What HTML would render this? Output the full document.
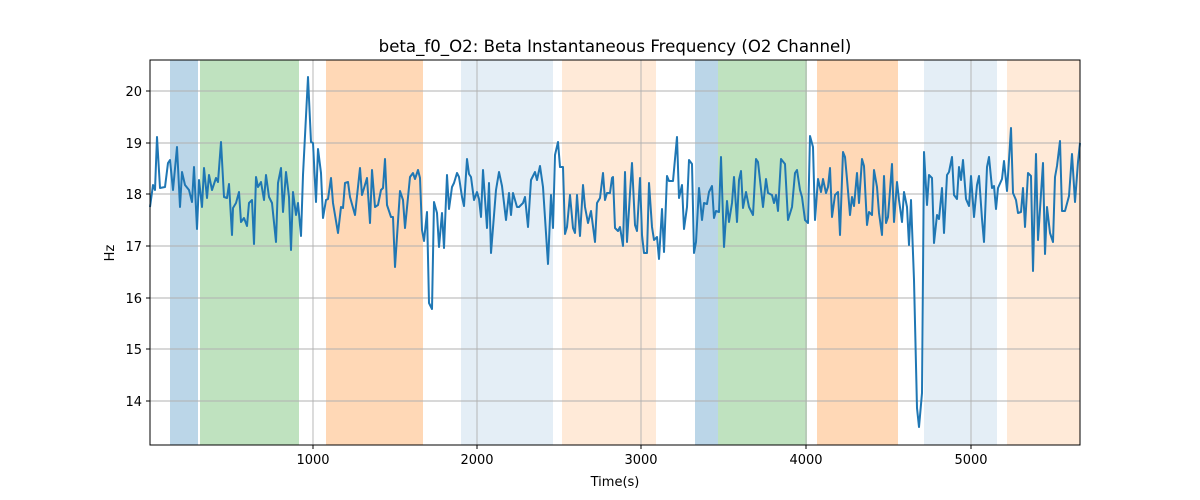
<!DOCTYPE html>
<html><head><meta charset="utf-8"><style>body{margin:0;background:#fff}svg{display:block}text{font-family:"DejaVu Sans","Liberation Sans",sans-serif}</style></head><body>
<svg width="1200" height="500" viewBox="0 0 1200 500">
<rect width="1200" height="500" fill="#fff"/>
<g>
<rect x="170" y="60" width="28" height="385" fill="#1f77b4" fill-opacity="0.3"/>
<rect x="200" y="60" width="99" height="385" fill="#2ca02c" fill-opacity="0.3"/>
<rect x="326" y="60" width="97" height="385" fill="#ff7f0e" fill-opacity="0.3"/>
<rect x="461" y="60" width="92" height="385" fill="#1f77b4" fill-opacity="0.12"/>
<rect x="562" y="60" width="94" height="385" fill="#ff7f0e" fill-opacity="0.16"/>
<rect x="695" y="60" width="23" height="385" fill="#1f77b4" fill-opacity="0.3"/>
<rect x="718" y="60" width="89" height="385" fill="#2ca02c" fill-opacity="0.3"/>
<rect x="817" y="60" width="81" height="385" fill="#ff7f0e" fill-opacity="0.3"/>
<rect x="924" y="60" width="73" height="385" fill="#1f77b4" fill-opacity="0.12"/>
<rect x="1007" y="60" width="73" height="385" fill="#ff7f0e" fill-opacity="0.16"/>
</g>
<g stroke="#b0b0b0" stroke-width="0.9">
<line x1="313" y1="60" x2="313" y2="445"/><line x1="477" y1="60" x2="477" y2="445"/><line x1="641" y1="60" x2="641" y2="445"/><line x1="806" y1="60" x2="806" y2="445"/><line x1="971" y1="60" x2="971" y2="445"/>
<line x1="150" y1="91" x2="1080" y2="91"/><line x1="150" y1="143" x2="1080" y2="143"/><line x1="150" y1="194" x2="1080" y2="194"/><line x1="150" y1="246" x2="1080" y2="246"/><line x1="150" y1="298" x2="1080" y2="298"/><line x1="150" y1="349" x2="1080" y2="349"/><line x1="150" y1="401" x2="1080" y2="401"/>
</g>
<polyline fill="none" stroke="#1f77b4" stroke-width="2" stroke-linejoin="round" points="150,207 153,185 155,190 157,137 160,188 165,187 168,163 170,160 173,190 177,147 180,207 182,172 185,185 189,190 192,202 194,167 197,229 199,180 202,207 204,168 207,198 209,175 212,190 216,178 218,182 221,142 224,197 227,198 229,184 232,235 233,208 236,203 239,192 241,222 244,218 247,226 249,203 252,200 254,244 256,177 258,187 261,182 264,200 266,175 269,197 272,203 276,242 278,183 281,168 283,212 286,172 289,197 291,250 293,192 296,215 298,203 301,236 303,175 308,77 311,142 313,143 316,202 318,149 321,173 323,218 326,200 328,199 331,178 333,203 338,233 341,207 343,208 345,183 348,182 350,197 355,215 360,168 362,195 367,178 370,223 372,170 375,207 378,205 381,190 383,188 385,159 387,205 391,217 393,217 395,267 400,191 403,200 405,228 410,177 413,173 415,179 418,170 420,178 422,230 424,241 427,212 429,303 432,309 434,202 437,213 439,247 442,213 444,248 447,175 449,209 452,187 454,183 457,173 459,177 462,197 464,206 467,159 469,174 471,177 474,200 477,192 479,199 481,217 483,170 487,228 489,183 491,253 496,190 499,172 502,186 506,220 509,193 511,215 513,193 517,207 519,207 523,203 525,197 528,227 531,180 535,172 537,180 540,166 543,187 548,264 551,195 553,228 555,155 558,142 560,167 563,167 565,234 567,227 570,195 573,228 575,233 577,195 580,236 583,185 585,207 588,223 591,211 595,242 597,203 600,198 603,173 605,200 607,193 610,193 612,178 613,177 615,228 618,231 620,227 623,246 625,172 627,242 630,193 632,163 635,225 637,231 640,178 642,235 644,253 647,253 649,183 652,227 654,240 657,237 659,259 662,209 664,252 667,176 669,181 673,181 677,137 679,198 682,185 684,229 687,207 689,160 692,164 694,253 696,242 699,188 702,220 704,203 707,204 709,192 712,186 714,218 716,211 719,212 721,157 724,247 727,201 729,222 732,203 734,177 737,222 739,180 741,171 743,208 746,192 749,207 753,215 756,159 758,162 763,207 766,179 768,193 772,195 774,203 776,195 778,211 781,159 785,164 788,220 792,207 795,173 797,170 800,190 802,197 805,220 808,223 810,136 813,147 815,220 818,179 821,192 823,179 826,193 828,187 830,168 832,217 835,195 838,192 840,235 843,152 845,157 847,179 850,215 852,197 854,206 857,173 859,203 862,159 864,166 867,225 869,212 872,215 874,170 877,187 879,213 882,235 884,176 886,223 888,217 892,164 894,222 897,182 899,200 902,222 904,192 907,207 909,245 911,200 914,280 917,408 919,427 922,393 924,152 927,205 929,175 932,178 934,243 937,215 939,219 942,188 944,233 947,175 949,172 952,157 954,195 957,199 959,167 961,180 963,160 966,199 969,206 971,176 974,217 977,185 979,176 982,219 984,242 987,167 989,157 992,188 994,186 996,209 998,188 1002,179 1004,161 1007,191 1011,128 1013,193 1016,200 1018,213 1021,212 1023,188 1025,227 1028,173 1031,176 1033,271 1036,154 1038,240 1043,163 1045,254 1047,207 1050,233 1053,242 1055,177 1057,166 1060,141 1062,211 1065,211 1069,196 1072,154 1075,202 1078,162 1080,143"/>
<rect x="150" y="60" width="930" height="385" fill="none" stroke="#000" stroke-width="1"/>
<g stroke="#000" stroke-width="1">
<line x1="313" y1="445" x2="313" y2="449"/><line x1="477" y1="445" x2="477" y2="449"/><line x1="641" y1="445" x2="641" y2="449"/><line x1="806" y1="445" x2="806" y2="449"/><line x1="971" y1="445" x2="971" y2="449"/>
<line x1="146" y1="91" x2="150" y2="91"/><line x1="146" y1="143" x2="150" y2="143"/><line x1="146" y1="194" x2="150" y2="194"/><line x1="146" y1="246" x2="150" y2="246"/><line x1="146" y1="298" x2="150" y2="298"/><line x1="146" y1="349" x2="150" y2="349"/><line x1="146" y1="401" x2="150" y2="401"/>
</g>
<g font-size="13" fill="#000" text-anchor="middle">
<text x="313" y="464">1000</text><text x="477" y="464">2000</text><text x="641" y="464">3000</text><text x="806" y="464">4000</text><text x="971" y="464">5000</text>
</g>
<g font-size="13" fill="#000" text-anchor="end">
<text x="142" y="96">20</text><text x="142" y="148">19</text><text x="142" y="199">18</text><text x="142" y="251">17</text><text x="142" y="303">16</text><text x="142" y="354">15</text><text x="142" y="406">14</text>
</g>
<text x="615" y="486" font-size="13" text-anchor="middle">Time(s)</text>
<text x="114" y="253" font-size="13" text-anchor="middle" transform="rotate(-90 114 253)">Hz</text>
<text x="615" y="52" font-size="16.6" text-anchor="middle">beta_f0_O2: Beta Instantaneous Frequency (O2 Channel)</text>
</svg>
</body></html>
